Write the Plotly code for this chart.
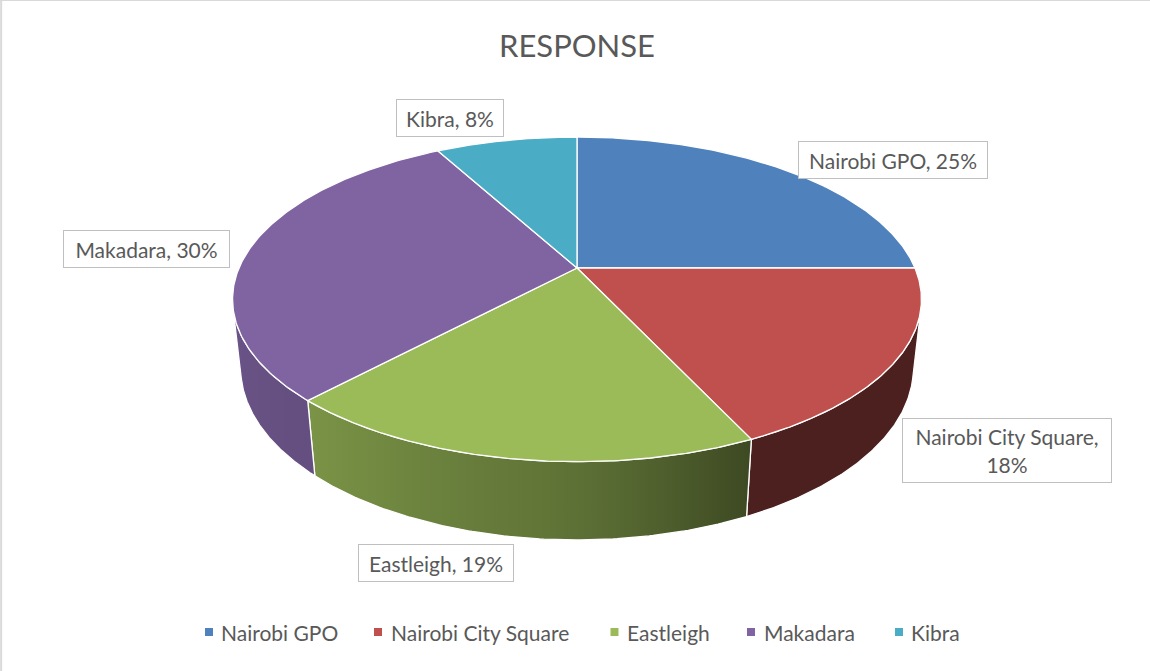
import numpy as np
import plotly.graph_objects as go

# ---- data -------------------------------------------------------------
categories = ["Nairobi GPO", "Nairobi City Square", "Eastleigh", "Makadara", "Kibra"]
shares = [25, 18, 19, 30, 8]
title_text = "RESPONSE"

# ---- styling ----------------------------------------------------------
top_colors = ["#4F81BD", "#C0504D", "#9BBB59", "#8064A2", "#4BACC6"]
text_color = "#595959"
font_family = "Lato, 'Open Sans', sans-serif"
W, H_PX = 1150, 671

# ---- 3-D camera used to project the tilted pie -------------------------
ALPHA = np.arcsin(0.4624)      # camera pitch
DIST = 4.592                   # camera distance (pie radius = 1)
FOCAL = 1552.0                 # focal length in pixels
CX, CY = 577.0, 268.0          # screen position of the pie centre
THICK = 0.232                  # pie thickness (pie radius = 1)
CAM_L = DIST * np.cos(ALPHA)
CAM_H = DIST * np.sin(ALPHA)


def project(X, Yw, Z):
    X, Yw, Z = np.broadcast_arrays(np.asarray(X, float), np.asarray(Yw, float), np.asarray(Z, float))
    d = (Yw - CAM_H) * (-np.sin(ALPHA)) + (Z + CAM_L) * np.cos(ALPHA)
    up = (Yw - CAM_H) * np.cos(ALPHA) + (Z + CAM_L) * np.sin(ALPHA)
    return CX + FOCAL * X / d, CY - FOCAL * up / d


def rim(theta_deg, level):
    t = np.radians(theta_deg)
    return project(np.sin(t), np.full_like(t, level), np.cos(t))


# side shading as a function of rim angle (0 deg = far point, clockwise)
shade_ang = [90, 155, 180, 223, 270]
shade_val = [0.40, 0.40, 0.61, 0.79, 0.85]


def shade(hex_color, f):
    h = hex_color.lstrip("#")
    r, g, b = (int(h[i:i + 2], 16) for i in (0, 2, 4))
    return "rgb({},{},{})".format(int(r * f), int(g * f), int(b * f))


# visible part of the outer wall
vis_lo = np.degrees(np.arccos(-1.0 / CAM_L))
vis_hi = 360.0 - vis_lo

fig = go.Figure()

total = float(sum(shares))
bounds = np.concatenate([[0.0], np.cumsum(shares) / total * 360.0])

# outer walls first
for i, cat in enumerate(categories):
    a0, a1 = max(bounds[i], vis_lo), min(bounds[i + 1], vis_hi)
    if a1 <= a0:
        continue
    th = np.linspace(a0, a1, 120)
    xt, yt = rim(th, 0.0)
    xb, yb = rim(th[::-1], -THICK)
    xs = np.concatenate([xt, xb, xt[:1]])
    ys = np.concatenate([yt, yb, yt[:1]])
    # gradient stops follow the wall from left (larger angle) to right
    samp = np.linspace(a1, a0, 8)
    sx, _ = rim(samp, -THICK / 2)
    x_start, x_stop = sx[0], sx[-1]
    stops = []
    for a, x in zip(samp, sx):
        pos = (x - x_start) / (x_stop - x_start)
        stops.append([float(np.clip(pos, 0, 1)), shade(top_colors[i], np.interp(a, shade_ang, shade_val))])
    stops[0][0], stops[-1][0] = 0.0, 1.0
    fig.add_trace(go.Scatter(
        x=xs, y=ys, mode="lines", fill="toself",
        line=dict(color="white", width=1.3),
        fillgradient=dict(type="horizontal", colorscale=stops, start=x_start, stop=x_stop),
        hoverinfo="skip", showlegend=False,
    ))

# top faces of the slices
for i, cat in enumerate(categories):
    th = np.linspace(bounds[i], bounds[i + 1], 200)
    xa, ya = rim(th, 0.0)
    xs = np.concatenate([[CX], xa, [CX]])
    ys = np.concatenate([[CY], ya, [CY]])
    fig.add_trace(go.Scatter(
        x=xs, y=ys, mode="lines", fill="toself", fillcolor=top_colors[i],
        line=dict(color="white", width=1.3),
        name=cat, text=f"{cat}: {shares[i]}%", hoverinfo="text", hoveron="fills",
        showlegend=False,
    ))

# data labels (box centre, box size)
label_boxes = [
    (893, 159.5, 188, 36),
    (1007, 450.5, 208, 63),
    (436, 563, 154, 36),
    (146.5, 249, 165, 36),
    (450, 118, 106, 36),
]
for i, cat in enumerate(categories):
    cx, cy, bw, bh = label_boxes[i]
    txt = f"{cat}, {shares[i]}%"
    if len(txt) > 20:
        txt = f"{cat},<br>{shares[i]}%"
    fig.add_annotation(
        x=cx, y=cy, xref="x", yref="y", text=txt, showarrow=False,
        width=bw, height=bh, align="center", valign="middle",
        bgcolor="white", bordercolor="#BFBFBF", borderwidth=1, borderpad=0,
        font=dict(family=font_family, size=21, color=text_color),
    )

# legend row
legend_sq_x = [209, 378, 614.5, 751, 899]
legend_tx_x = [218.7, 388.7, 625.3, 762, 908.7]
legend_y = 632
fig.add_trace(go.Scatter(
    x=legend_sq_x, y=[legend_y] * len(categories), mode="markers",
    marker=dict(symbol="square", size=8, color=top_colors, line=dict(width=0)),
    hoverinfo="skip", showlegend=False,
))
for i, cat in enumerate(categories):
    fig.add_annotation(
        x=legend_tx_x[i], y=legend_y, xref="x", yref="y", text=cat,
        showarrow=False, xanchor="left", yanchor="middle",
        font=dict(family=font_family, size=21, color=text_color),
    )

# title
fig.add_annotation(
    x=577, y=45, xref="x", yref="y", text=title_text, showarrow=False,
    xanchor="center", yanchor="middle",
    font=dict(family=font_family, size=31, color=text_color),
)

# chart-area border (top and left edges)
fig.add_shape(type="line", xref="paper", yref="paper", x0=0, x1=1, y0=1, y1=1,
              line=dict(color="#D9D9D9", width=2))
fig.add_shape(type="line", xref="paper", yref="paper", x0=0.001, x1=0.001, y0=0, y1=1,
              line=dict(color="#D9D9D9", width=2))

fig.update_layout(
    width=W, height=H_PX,
    margin=dict(l=0, r=0, t=0, b=0),
    paper_bgcolor="white", plot_bgcolor="white",
    xaxis=dict(range=[0, W], visible=False, fixedrange=True),
    yaxis=dict(range=[H_PX, 0], visible=False, fixedrange=True),
    showlegend=False,
)

fig.write_html("out.html")
